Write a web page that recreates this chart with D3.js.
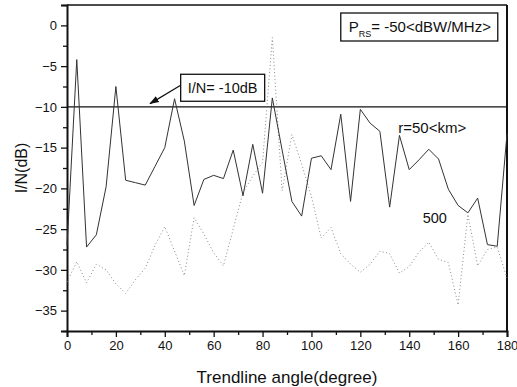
<!DOCTYPE html>
<html>
<head>
<meta charset="utf-8">
<script src="https://cdn.jsdelivr.net/npm/d3@7"></script>
<style>
  html,body{margin:0;padding:0;background:#fff}
  svg{display:block}
  text{font-family:'Liberation Sans',Arial,sans-serif;fill:#111}
</style>
</head>
<body>
<svg id="chart" width="517" height="387"></svg>
<script>
// trendline angle (degree), one sample every 4 degrees
const angles = d3.range(0, 181, 4);

// r = 50 km (solid)
const r50 = [-27.0, -4.2, -27.2, -25.7, -19.8, -7.5, -19.0, -19.3, -19.6, -17.3,
  -15.0, -9.0, -14.2, -22.1, -18.9, -18.4, -18.8, -15.3, -20.9, -14.6,
  -20.6, -8.9, -15.3, -21.6, -23.4, -16.3, -16.0, -17.7, -10.9, -21.6,
  -10.3, -12.0, -13.0, -22.3, -13.5, -17.7, -16.5, -15.2, -16.4, -20.1,
  -22.1, -23.0, -21.2, -26.9, -27.1, -13.3];

// r = 500 km (dotted)
const r500 = [-31.5, -29.0, -31.6, -29.3, -30.0, -31.7, -32.9, -31.2, -29.8, -27.0,
  -24.7, -27.7, -30.7, -23.6, -25.6, -27.9, -29.5, -25.0, -20.5, -18.5,
  -16.8, -1.5, -20.3, -13.4, -17.0, -21.0, -26.1, -24.8, -28.0, -29.3,
  -30.3, -29.3, -27.7, -28.0, -30.4, -29.6, -27.8, -26.6, -28.7, -29.1,
  -34.3, -23.2, -29.5, -27.5, -27.2, -31.0];

const xTicks = d3.range(0, 181, 20);
const yTicks = d3.range(-35, 1, 5);
const threshold = -10;

const margin = { top: 5, right: 10, bottom: 56, left: 67 };
const W = 517, H = 387;
const iw = W - margin.left - margin.right;
const ih = H - margin.top - margin.bottom;

const svg = d3.select('#chart');
const g = svg.append('g').attr('transform', `translate(${margin.left},${margin.top})`);

const x = d3.scaleLinear().domain([0, 180]).range([0, iw]);
const y = d3.scaleLinear().domain([-37.5, 2.5]).range([ih, 0]);

// axes
g.append('g').attr('transform', `translate(0,${ih})`)
  .call(d3.axisBottom(x).tickValues(xTicks).tickSize(6).tickPadding(4).tickFormat(d3.format('d')));
g.append('g').attr('transform', `translate(0,${ih})`)
  .call(d3.axisBottom(x).tickValues(d3.range(10, 180, 20)).tickSize(4).tickFormat(''))
  .select('.domain').remove();
g.append('g')
  .call(d3.axisLeft(y).tickValues(yTicks).tickSize(6).tickPadding(4).tickFormat(d3.format('d')));
g.append('g')
  .call(d3.axisLeft(y).tickValues(d3.range(-37.5, 2.6, 5)).tickSize(4).tickFormat(''))
  .select('.domain').remove();

g.selectAll('.tick text').style('font-size', '13px').attr('fill', '#111');
g.selectAll('.tick line').attr('stroke', '#111').attr('stroke-width', 1.3);
g.selectAll('.domain').attr('stroke', '#111').attr('stroke-width', 2);

// frame top/right
g.append('line').attr('x1', 0).attr('x2', iw).attr('y1', 0).attr('y2', 0)
  .attr('stroke', '#111').attr('stroke-width', 1.5);
g.append('line').attr('x1', iw).attr('x2', iw).attr('y1', 0).attr('y2', ih)
  .attr('stroke', '#111').attr('stroke-width', 2);

// threshold line
g.append('line').attr('x1', 0).attr('x2', iw).attr('y1', y(threshold)).attr('y2', y(threshold))
  .attr('stroke', '#111').attr('stroke-width', 1.3);

const line = d3.line().x((d, i) => x(angles[i])).y(d => y(d));

g.append('path').datum(r500).attr('d', line)
  .attr('fill', 'none').attr('stroke', '#888').attr('stroke-width', 1)
  .attr('stroke-dasharray', '1,2.5');

g.append('path').datum(r50).attr('d', line)
  .attr('fill', 'none').attr('stroke', '#333').attr('stroke-width', 1);

// annotation box I/N = -10dB with arrow
const defs = svg.append('defs');
defs.append('marker').attr('id', 'arr').attr('viewBox', '0 0 10 10')
  .attr('refX', 9).attr('refY', 5).attr('markerWidth', 8).attr('markerHeight', 8)
  .attr('orient', 'auto-start-reverse')
  .append('path').attr('d', 'M0,1.5 L10,5 L0,8.5 Z').attr('fill', '#111');

const bx = x(46.5), by = y(-6.0), bw = 84, bh = 27;
g.append('rect').attr('x', bx).attr('y', by).attr('width', bw).attr('height', bh)
  .attr('fill', '#fff').attr('stroke', '#111').attr('stroke-width', 1.3);
g.append('text').attr('x', bx + bw / 2).attr('y', by + bh / 2 + 5)
  .attr('text-anchor', 'middle').style('font-size', '14.5px').text('I/N= -10dB');
g.append('line').attr('x1', bx).attr('y1', by + 11).attr('x2', x(34)).attr('y2', y(-9.6))
  .attr('stroke', '#111').attr('stroke-width', 1.2).attr('marker-end', 'url(#arr)');

// legend box P_RS
const lx = x(112), ly = 8, lw = 157, lh = 28;
g.append('rect').attr('x', lx).attr('y', ly).attr('width', lw).attr('height', lh)
  .attr('fill', '#fff').attr('stroke', '#111').attr('stroke-width', 1.3);
const pt = g.append('text').attr('x', lx + 8).attr('y', ly + 19).style('font-size', '15px');
pt.append('tspan').text('P');
pt.append('tspan').attr('dy', 5).style('font-size', '9px').text('RS');
pt.append('tspan').attr('dy', -5).text('= -50<dBW/MHz>');

// series labels
g.append('text').attr('x', x(135.5)).attr('y', y(-13.2)).style('font-size', '15px').text('r=50<km>');
g.append('text').attr('x', x(145.5)).attr('y', y(-24.2)).style('font-size', '14.5px').text('500');

// axis titles
svg.append('text').attr('x', margin.left + iw / 2).attr('y', 383)
  .attr('text-anchor', 'middle').style('font-size', '17px').text('Trendline angle(degree)');
svg.append('text').attr('transform', `translate(27,${margin.top + ih / 2}) rotate(-90)`)
  .attr('text-anchor', 'middle').style('font-size', '16px').text('I/N(dB)');
</script>
</body>
</html>
